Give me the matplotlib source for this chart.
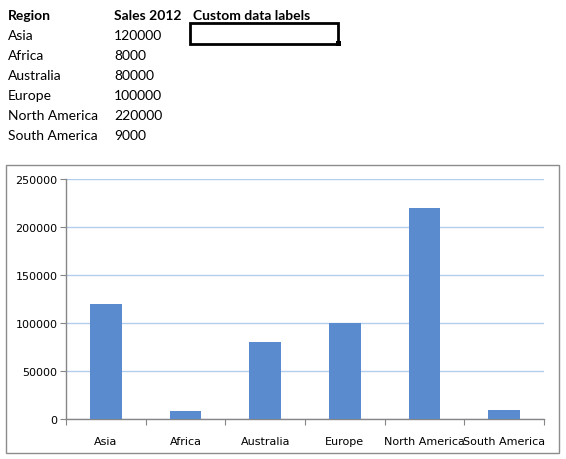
import matplotlib
matplotlib.use("Agg")
import matplotlib.pyplot as plt
from matplotlib.patches import Rectangle

regions = ["Asia", "Africa", "Australia", "Europe", "North America", "South America"]
sales_2012 = [120000, 8000, 80000, 100000, 220000, 9000]
header = ["Region", "Sales 2012", "Custom data labels"]
y_ticks = [0, 50000, 100000, 150000, 200000, 250000]

W, H = 566, 460
fig = plt.figure(figsize=(W / 100, H / 100), dpi=100)
fig.patch.set_facecolor("white")

def fx(px):
    return px / W

def fy(py):
    return 1 - py / H

# Spreadsheet table
tfont = dict(family=["Lato", "DejaVu Sans"], fontsize=10, color="black", va="baseline")
col_x = [7.5, 114, 193]
base0 = 20
for j, h in enumerate(header):
    fig.text(fx(col_x[j]), fy(base0), h, fontweight="bold", **tfont)
for i, (r, v) in enumerate(zip(regions, sales_2012)):
    yb = base0 + 20 * (i + 1)
    fig.text(fx(col_x[0]), fy(yb), r, **tfont)
    fig.text(fx(col_x[1]), fy(yb), str(v), **tfont)

# selected cell
fig.patches.append(Rectangle((fx(190), fy(45)), fx(338) - fx(190), fy(24) - fy(45),
                             transform=fig.transFigure, fill=False, lw=2, ec="black"))
fig.patches.append(Rectangle((fx(335.5), fy(47)), fx(5), fy(42) - fy(47),
                             transform=fig.transFigure, fill=True, fc="black", ec="black", lw=0))

# Chart border
fig.patches.append(Rectangle((fx(5.5), fy(454)), fx(559) - fx(5.5), fy(166) - fy(454),
                             transform=fig.transFigure, fill=False, lw=1, ec="#8C8C8C"))

ax = fig.add_axes([fx(66), fy(420), fx(544) - fx(66), fy(180) - fy(420)])
x = list(range(len(regions)))
ax.bar(x, sales_2012, width=0.4, color="#5A8BCF", zorder=3)
ax.set_xlim(-0.5, len(regions) - 0.5)
ax.set_ylim(0, 250000)
ax.set_yticks(y_ticks)
ax.set_yticklabels([str(t) for t in y_ticks])
ax.yaxis.grid(True, color="#B3CDEC", lw=1, zorder=0)
ax.set_axisbelow(True)
for s in ["top", "right"]:
    ax.spines[s].set_visible(False)
for s in ["left", "bottom"]:
    ax.spines[s].set_color("#868686")
    ax.spines[s].set_linewidth(1)
ax.set_xticks([i - 0.5 for i in range(len(regions) + 1)])
ax.set_xticklabels([])
ax.set_xticks(x, minor=True)
ax.set_xticklabels(regions, minor=True)
ax.tick_params(axis="x", which="major", length=4, color="#868686", direction="out")
ax.tick_params(axis="x", which="minor", length=0, pad=12, labelsize=8, labelcolor="black")
ax.tick_params(axis="y", length=4, color="#868686", labelsize=8, pad=2)
for lab in ax.get_xticklabels(minor=True) + ax.get_yticklabels():
    lab.set_family(["DejaVu Sans"])

fig.savefig("out.png", dpi=100, facecolor="white")
